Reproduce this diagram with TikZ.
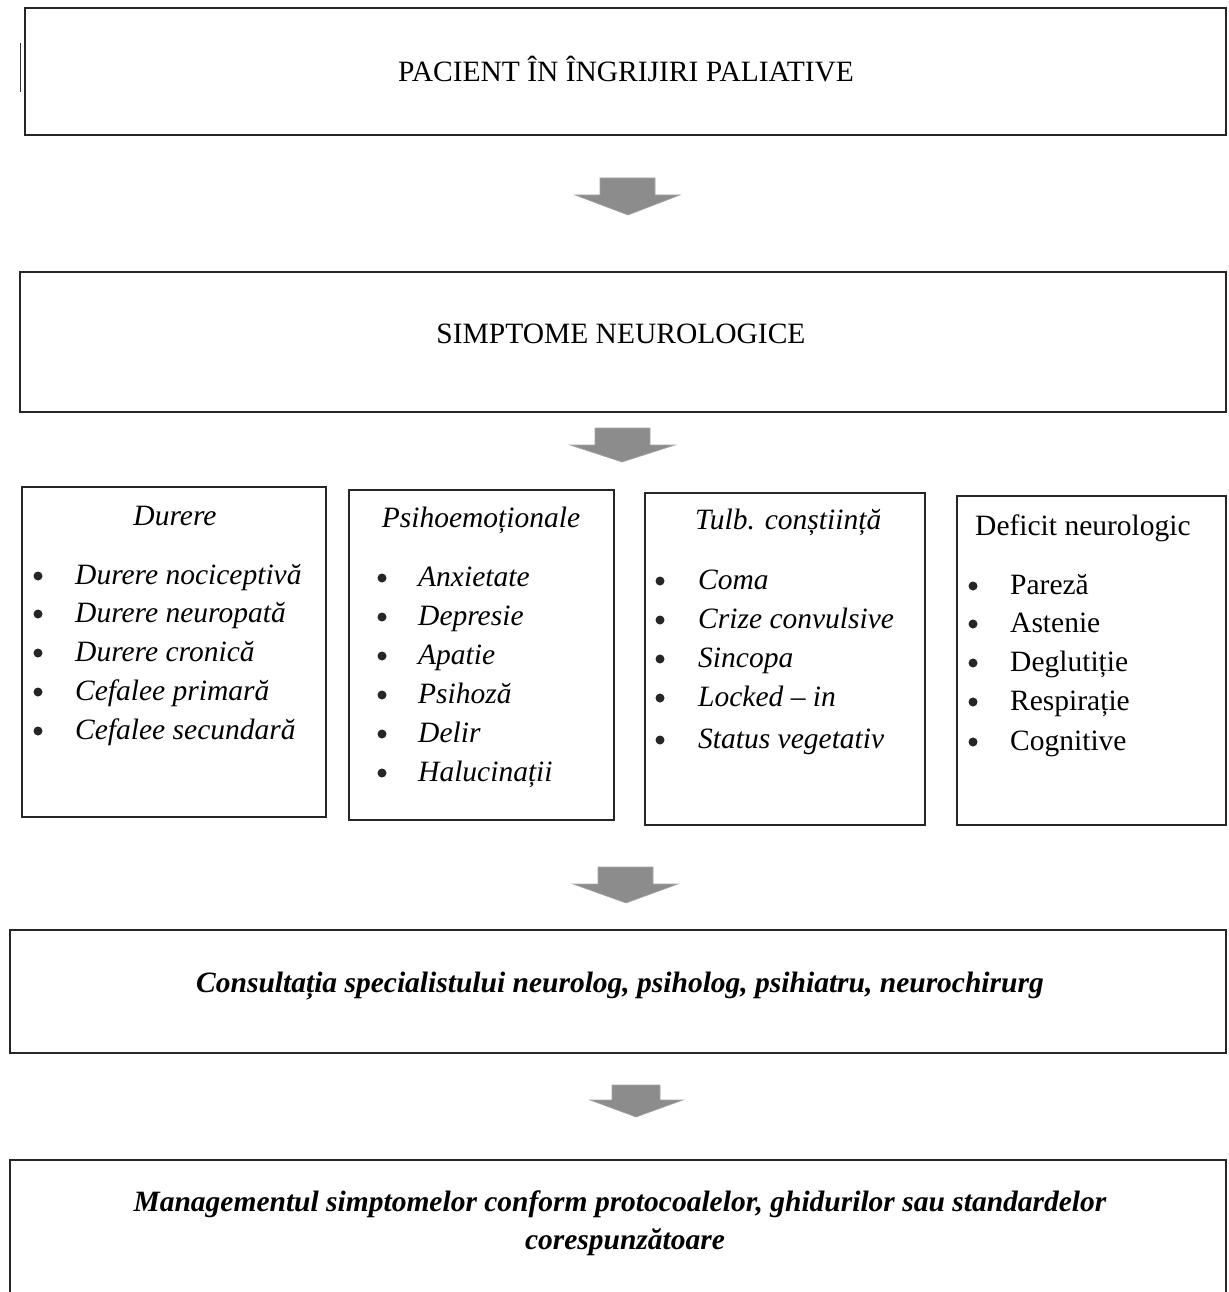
\documentclass[tikz,border=0pt]{standalone}
\usepackage{fontspec}
\setmainfont{Liberation Serif}
\begin{document}
\begin{tikzpicture}[x=1pt,y=-1pt,
  box/.style={draw=black!85,line width=1.6pt},
  txt/.style={inner sep=0pt,font=\fontsize{29.5}{38}\selectfont},
  itxt/.style={txt,font=\fontsize{29.5}{38}\selectfont\itshape},
  bitxt/.style={txt,font=\fontsize{29.5}{38}\selectfont\bfseries\itshape},
  bul/.style={circle,fill=black!85,inner sep=0pt,minimum size=9pt},
  barrow/.style={fill=black!45,draw=black!35,line width=0.6pt}]
\useasboundingbox (0,0) rectangle (1228,1292);
\fill[white] (0,0) rectangle (1228,1292);
% stray mark at left of first box
\draw[black!80,line width=1pt] (20,43) -- (20,92);
% main boxes
\draw[box] (25,8) rectangle (1226,135);
\node[txt,anchor=base] (t1) at (626,82) {PACIENT ÎN ÎNGRIJIRI PALIATIVE};
\draw[box] (20,272) rectangle (1226,412);
\node[txt,anchor=base] (t2) at (621,343) {SIMPTOME NEUROLOGICE};
% four boxes
\draw[box] (22,487) rectangle (326,817);
\draw[box] (349,490) rectangle (614,820);
\draw[box] (645,493) rectangle (925,825);
\draw[box] (957,496) rectangle (1226,825);
\node[itxt,anchor=base] (h1) at (175,525) {Durere};
\node[itxt,anchor=base] (h2) at (481,527) {Psihoemoționale};
\node[itxt,anchor=base west] (h3) at (695,529) {Tulb. conștiință};
\node[txt,anchor=base west] (h4) at (975,535) {Deficit neurologic};
% lists
\foreach \t/\yy [count=\i] in {Durere nociceptivă/584, Durere neuropată/622, Durere cronică/661, Cefalee primară/700, Cefalee secundară/739}{
  \node[bul] (da\i) at (38,\yy-8) {};
  \node[itxt,anchor=base west] (d\i) at (75,\yy) {\t};}
\foreach \t/\yy [count=\i] in {Anxietate/586, Depresie/625, Apatie/664, Psihoză/703, Delir/742, Halucinații/781}{
  \node[bul] (pa\i) at (382,\yy-8) {};
  \node[itxt,anchor=base west] (p\i) at (418,\yy) {\t};}
\foreach \t/\yy [count=\i] in {Coma/589, Crize convulsive/628, Sincopa/667, Locked – in/706, Status vegetativ/748}{
  \node[bul] (ca\i) at (660,\yy-8) {};
  \node[itxt,anchor=base west] (c\i) at (698,\yy) {\t};}
\foreach \t/\yy [count=\i] in {Pareză/594, Astenie/632, Deglutiție/671, Respirație/710, Cognitive/750}{
  \node[bul] (na\i) at (973,\yy-8) {};
  \node[txt,anchor=base west] (n\i) at (1010,\yy) {\t};}
% bottom boxes
\draw[box] (10,930) rectangle (1226,1053);
\node[bitxt,anchor=base] (t5) at (620,992) {Consultația specialistului neurolog, psiholog, psihiatru, neurochirurg};
\draw[box] (10,1160) rectangle (1226,1310);
\node[bitxt,anchor=base] (t6a) at (620,1211) {Managementul simptomelor conform protocoalelor, ghidurilor sau standardelor};
\node[bitxt,anchor=base] (t6b) at (625,1249) {corespunzătoare};
% block arrows
\draw[barrow] (600,178) -- (655,178) -- (655,195) -- (680,195) -- (628,215) -- (575,195) -- (600,195) -- cycle;
\draw[barrow] (595,428) -- (650,428) -- (650,445) -- (675,445) -- (622,462) -- (570,445) -- (595,445) -- cycle;
\draw[barrow] (598,867) -- (653,867) -- (653,884) -- (678,884) -- (626,903) -- (573,884) -- (598,884) -- cycle;
\draw[barrow] (612,1085) -- (660,1085) -- (660,1100) -- (683,1100) -- (636,1117) -- (590,1100) -- (612,1100) -- cycle;
\end{tikzpicture}
\end{document}
